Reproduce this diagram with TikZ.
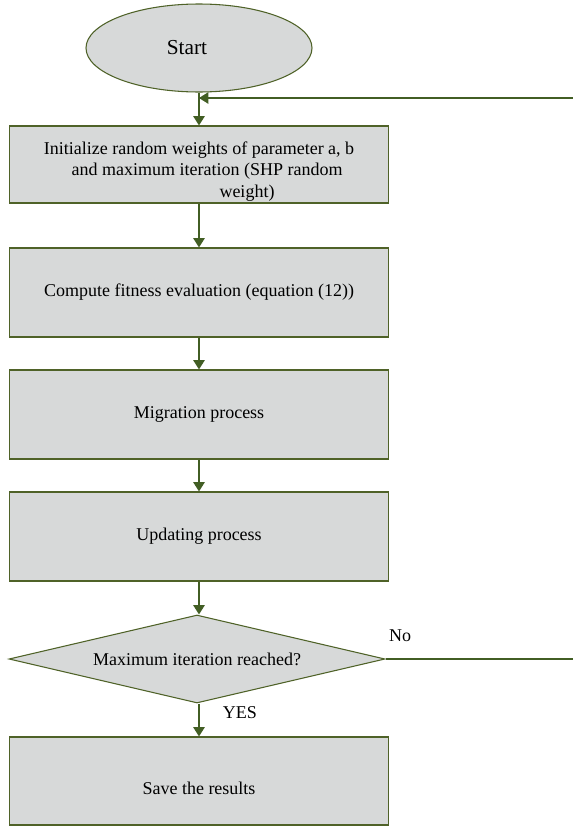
\documentclass[tikz,border=0pt]{standalone}
\usepackage{fontspec}
\setmainfont{Liberation Serif}
\usepackage{tikz}
\usetikzlibrary{arrows.meta,positioning,shapes.geometric}
\definecolor{olive}{RGB}{79,98,40}
\definecolor{lineg}{RGB}{66,94,36}
\definecolor{boxfill}{RGB}{215,217,217}
\tikzset{
  % ---- shapes -------------------------------------------------------------
  stepbox/.style={
    rectangle, draw=olive, line width=0.8pt, fill=boxfill, text=black,
    font=\fontsize{13.5}{14.25}\selectfont, align=center,
    minimum width=284pt, inner sep=0pt},
  termnode/.style={stepbox, ellipse, minimum width=169.5pt, minimum height=66pt,
    font=\fontsize{16}{18}\selectfont},
  decnode/.style={stepbox, diamond, shape aspect=4.3,
    minimum width=282pt, minimum height=66pt},
  % ---- arrows -------------------------------------------------------------
  ar/.style={-{Triangle[length=7pt,width=8.5pt]}, draw=lineg, line width=1.2pt},
  % ---- labels -------------------------------------------------------------
  lbl/.style={font=\fontsize{13.5}{14.25}\selectfont, inner sep=1pt},
}

\begin{document}
\begin{tikzpicture}[x=0.75pt,y=-0.75pt]
\useasboundingbox (0,0) rectangle (573,828);

\node[termnode] (start) at (199,48) {Start\hspace*{18pt}};

\node[stepbox, minimum height=57.75pt] (init) at (199,164.5)
  {\renewcommand{\arraystretch}{1.12}%
   \raisebox{-9pt}[0pt][0pt]{\begin{tabular}{@{}c@{}}
   Initialize random weights of parameter a, b\\
   \hspace*{12pt}and maximum iteration (SHP random\\
   \hspace*{72pt}weight)\end{tabular}}};
\node[stepbox, minimum height=66.75pt] (fit)  at (199,292.5)
  {Compute fitness evaluation (equation (12))};
\node[stepbox, minimum height=66.75pt] (mig)  at (199,414.5) {Migration process};
\node[stepbox, minimum height=66.75pt] (upd)  at (199,536.5) {Updating process};
\node[decnode] (dec) at (197,659) {Maximum iteration reached?};
\node[stepbox, minimum height=66pt] (save) at (199,781)
  {\raisebox{-10pt}[0pt][0pt]{Save the results}};

\draw[ar] (start) -- (init);
\draw[ar] (init) -- (fit);
\draw[ar] (fit) -- (mig);
\draw[ar] (mig) -- (upd);
\draw[ar] (upd.south) -- (upd.south |- dec.north);
\draw[ar] (dec.south -| save.north) -- (save);

% loop back when the limit is not reached
\coordinate (rbot) at (574,659);
\coordinate (rtop) at (574,98);
\coordinate (join) at (start.south |- rtop);
\draw[ar] (dec.east) -- (rbot) -- (rtop) -- (join);

\node[lbl] (nolbl)  at (400,636) {No};
\node[lbl] (yeslbl) at (240,713) {YES};

\end{tikzpicture}
\end{document}
